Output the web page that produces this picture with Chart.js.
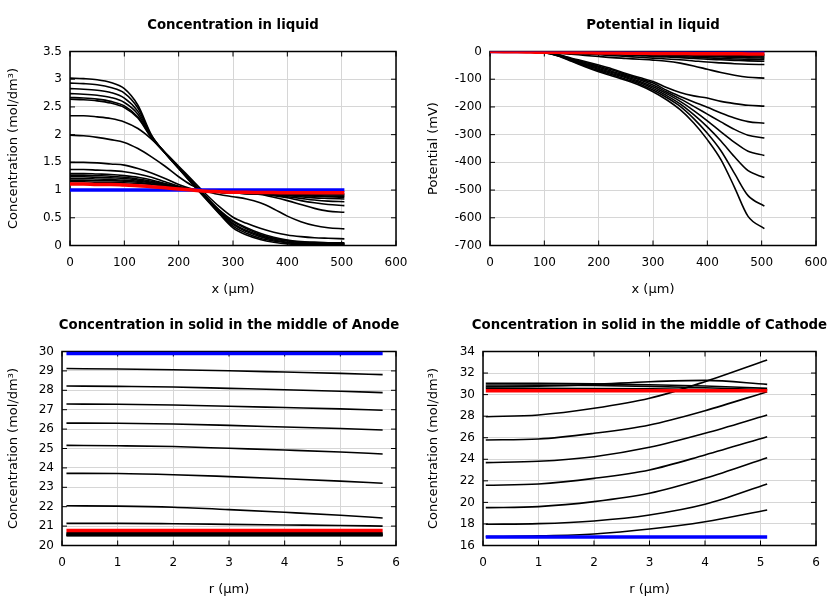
<!DOCTYPE html>
<html><head><meta charset="utf-8">
<script src="https://cdn.jsdelivr.net/npm/chart.js@4.4.1/dist/chart.umd.min.js"></script>
<style>
html,body{margin:0;padding:0;background:#fff;}
#wrap{position:relative;width:840px;height:600px;overflow:hidden;}
canvas{position:absolute;}
</style></head><body>
<div id="wrap">
<canvas id="c1" width="420" height="300" style="left:0;top:0"></canvas>
<canvas id="c2" width="420" height="300" style="left:420px;top:0"></canvas>
<canvas id="c3" width="420" height="300" style="left:0;top:300px"></canvas>
<canvas id="c4" width="420" height="300" style="left:420px;top:300px"></canvas>
</div>
<script>
// ---------- Panel 1: Concentration in liquid (mol/dm3) vs x (um) ----------
const xLiquid = [0,25,50,75,100,125,150,175,200,225,250,275,300,325,350,375,400,425,450,475,505];
const liqInitial = [1,1,1,1,1,1,1,1,1,1,1,1,1,1,1,1,1,1,1,1,1];
const liqFinal = [1.11,1.11,1.10,1.10,1.09,1.08,1.06,1.04,1.02,1.00,0.98,0.97,0.96,0.96,0.955,0.955,0.95,0.95,0.95,0.95,0.95];
const liqSteps = [
  [3.02,3.01,2.99,2.94,2.83,2.53,1.99,1.67,1.39,1.11,0.84,0.57,0.32,0.19,0.11,0.06,0.03,0.02,0.01,0.01,0.01],
  [2.93,2.92,2.90,2.85,2.75,2.48,1.98,1.67,1.39,1.12,0.85,0.58,0.35,0.22,0.13,0.08,0.05,0.03,0.02,0.02,0.02],
  [2.83,2.82,2.80,2.76,2.66,2.42,1.97,1.67,1.40,1.12,0.86,0.60,0.38,0.25,0.16,0.10,0.06,0.04,0.03,0.03,0.02],
  [2.74,2.73,2.71,2.67,2.58,2.37,1.96,1.67,1.40,1.13,0.87,0.61,0.40,0.27,0.18,0.12,0.08,0.05,0.04,0.03,0.03],
  [2.67,2.66,2.64,2.60,2.52,2.32,1.95,1.67,1.41,1.14,0.88,0.63,0.43,0.30,0.20,0.13,0.09,0.06,0.05,0.04,0.04],
  [2.64,2.63,2.61,2.57,2.49,2.30,1.94,1.67,1.41,1.15,0.89,0.64,0.45,0.32,0.22,0.15,0.10,0.07,0.06,0.05,0.05],
  [2.34,2.34,2.32,2.29,2.23,2.11,1.92,1.68,1.43,1.18,0.93,0.70,0.51,0.40,0.31,0.24,0.19,0.16,0.14,0.13,0.12],
  [1.99,1.98,1.95,1.91,1.86,1.75,1.60,1.43,1.24,1.08,0.98,0.92,0.88,0.84,0.77,0.66,0.53,0.43,0.36,0.32,0.30],
  [1.50,1.50,1.49,1.47,1.45,1.39,1.31,1.21,1.10,1.02,0.98,0.96,0.95,0.94,0.92,0.87,0.81,0.74,0.67,0.62,0.60],
  [1.37,1.37,1.36,1.35,1.33,1.29,1.23,1.15,1.07,1.01,0.98,0.96,0.95,0.94,0.93,0.90,0.86,0.81,0.77,0.74,0.72],
  [1.30,1.30,1.29,1.28,1.26,1.23,1.18,1.12,1.06,1.01,0.98,0.96,0.95,0.94,0.93,0.91,0.88,0.85,0.82,0.80,0.79],
  [1.27,1.27,1.26,1.25,1.23,1.20,1.16,1.11,1.05,1.01,0.98,0.96,0.95,0.94,0.93,0.92,0.90,0.88,0.86,0.85,0.84],
  [1.24,1.24,1.23,1.22,1.21,1.18,1.14,1.10,1.05,1.01,0.98,0.96,0.95,0.94,0.93,0.92,0.91,0.90,0.89,0.88,0.87],
  [1.21,1.21,1.20,1.19,1.18,1.16,1.13,1.09,1.04,1.00,0.98,0.96,0.95,0.94,0.93,0.92,0.91,0.90,0.90,0.89,0.89],
  [1.18,1.18,1.17,1.17,1.16,1.14,1.11,1.08,1.04,1.00,0.98,0.96,0.95,0.94,0.93,0.93,0.92,0.92,0.91,0.91,0.91],
  [1.15,1.15,1.14,1.14,1.13,1.12,1.10,1.07,1.03,1.00,0.98,0.96,0.95,0.95,0.94,0.94,0.93,0.93,0.93,0.93,0.93]
];

// ---------- Panel 2: Potential in liquid (mV) vs x (um) ----------
const potInitial = [0,0,0,0,0,0,0,0,0,0,0,0,0,0,0,0,0,0,0,0,0];
const potFinal = [0,-1,-1,-2,-3,-3,-4,-4,-5,-5,-6,-6,-7,-7,-7,-8,-8,-8,-8,-9,-9];
const potSteps = [
  [0,0,-1,-2,-4,-16,-35,-55,-73,-88,-104,-122,-145,-174,-210,-258,-318,-390,-490,-595,-639],
  [0,0,-1,-2,-4,-15,-33,-52,-69,-84,-100,-117,-139,-166,-198,-242,-295,-358,-440,-520,-558],
  [0,0,-1,-2,-4,-14,-31,-49,-65,-80,-95,-112,-133,-159,-189,-228,-272,-323,-380,-430,-455],
  [0,0,-1,-2,-3,-13,-30,-46,-61,-76,-91,-107,-127,-152,-180,-213,-250,-290,-328,-360,-375],
  [0,0,-1,-2,-3,-12,-28,-43,-57,-72,-87,-102,-121,-146,-171,-198,-226,-254,-281,-302,-312],
  [0,0,-1,-2,-3,-12,-26,-40,-53,-67,-83,-98,-114,-140,-162,-182,-201,-222,-240,-253,-259],
  [0,0,-1,-2,-3,-11,-24,-36,-49,-63,-79,-94,-108,-130,-148,-160,-168,-180,-188,-194,-197],
  [0,0,0,-1,-3,-6,-10,-14,-18,-22,-25,-28,-31,-35,-42,-52,-64,-76,-86,-93,-96],
  [0,0,0,-1,-2,-4,-6,-9,-12,-15,-18,-21,-24,-27,-30,-34,-38,-41,-44,-46,-47],
  [0,0,0,-1,-2,-3,-5,-7,-9,-11,-13,-15,-18,-20,-22,-25,-28,-30,-32,-34,-35],
  [0,0,0,-1,-1,-2,-4,-5,-7,-9,-11,-13,-15,-17,-19,-21,-23,-25,-27,-28,-29],
  [0,0,0,-1,-1,-2,-3,-4,-6,-7,-9,-10,-12,-14,-15,-17,-19,-20,-22,-23,-24],
  [0,0,0,0,-1,-2,-3,-4,-5,-6,-7,-9,-10,-11,-13,-14,-15,-17,-18,-19,-20],
  [0,0,0,0,-1,-1,-2,-3,-4,-5,-6,-7,-8,-9,-10,-11,-12,-13,-14,-15,-16],
  [0,0,0,0,-1,-1,-2,-2,-3,-4,-5,-5,-6,-7,-8,-9,-10,-11,-11,-12,-13],
  [0,0,0,0,0,-1,-1,-2,-2,-3,-3,-4,-5,-5,-6,-7,-7,-8,-9,-9,-10]
];

// ---------- Panel 3: Concentration in solid, middle of Anode vs r (um) ----------
const rAnode = [0.08,1,2,3,4,5,5.76];
const anodeInitial = [29.9,29.9,29.9,29.9,29.9,29.9,29.9];
const anodeFinal = [20.77,20.77,20.77,20.77,20.77,20.77,20.77];
const anodeSteps = [
  [29.12,29.10,29.06,29.01,28.94,28.87,28.81],
  [28.22,28.20,28.17,28.10,28.03,27.95,27.88],
  [27.29,27.28,27.24,27.18,27.11,27.04,26.97],
  [26.31,26.30,26.26,26.19,26.11,26.03,25.95],
  [25.16,25.14,25.10,25.01,24.92,24.82,24.72],
  [23.72,23.71,23.65,23.55,23.44,23.32,23.21],
  [22.05,22.03,21.97,21.85,21.71,21.56,21.42],
  [21.14,21.14,21.12,21.09,21.06,21.03,21.00],
  [20.66,20.66,20.66,20.66,20.66,20.66,20.66],
  [20.62,20.62,20.62,20.62,20.62,20.62,20.62],
  [20.58,20.58,20.58,20.58,20.58,20.58,20.58],
  [20.55,20.55,20.55,20.55,20.55,20.55,20.55],
  [20.52,20.52,20.52,20.52,20.52,20.52,20.52],
  [20.50,20.50,20.50,20.50,20.50,20.50,20.50]
];

// ---------- Panel 4: Concentration in solid, middle of Cathode vs r (um) ----------
const rCathode = [0.05,1,2,3,4,5.12];
const cathodeInitial = [16.8,16.8,16.8,16.8,16.8,16.8];
const cathodeFinal = [30.35,30.35,30.35,30.35,30.35,30.35];
const cathodeSteps = [
  [16.82,16.89,17.07,17.53,18.21,19.30],
  [17.97,18.03,18.28,18.83,19.82,21.71],
  [19.51,19.61,20.07,20.84,22.23,24.15],
  [21.59,21.71,22.23,23.01,24.40,26.10],
  [23.69,23.81,24.24,25.11,26.41,28.11],
  [25.79,25.88,26.41,27.18,28.51,30.27],
  [27.95,28.11,28.73,29.66,31.20,33.21],
  [30.74,30.78,30.95,31.20,31.32,30.95],
  [31.05,31.04,31.00,30.92,30.80,30.58],
  [30.89,30.88,30.84,30.76,30.64,30.45],
  [30.60,30.59,30.57,30.53,30.48,30.40]
];

// ---------- helpers ----------
Chart.defaults.font.family = '"DejaVu Sans", sans-serif';
Chart.defaults.font.size = 12;
Chart.defaults.color = '#000';

function pts(xs, ys){ return xs.map((x,i)=>({x:x, y:ys[i]})); }

function buildDatasets(xs, initial, final, steps){
  const ds = [];
  ds.push({data: pts(xs, final), borderColor:'#ff0000', borderWidth:3.5});
  ds.push({data: pts(xs, initial), borderColor:'#0000ff', borderWidth:3.5});
  steps.forEach(s => ds.push({data: pts(xs, s), borderColor:'#000000', borderWidth:1.6}));
  return ds;
}

const framePlugin = {
  id: 'frame',
  beforeDatasetsDraw(chart) {
    const {ctx, chartArea: a, scales} = chart;
    const x = scales.x, y = scales.y;
    ctx.save();
    ctx.strokeStyle = '#000';
    ctx.lineWidth = 1;
    const L = 5;
    ctx.beginPath();
    x.ticks.forEach(t => {
      const p = x.getPixelForValue(t.value);
      ctx.moveTo(p, a.bottom); ctx.lineTo(p, a.bottom - L);
      ctx.moveTo(p, a.top); ctx.lineTo(p, a.top + L);
    });
    y.ticks.forEach(t => {
      const p = y.getPixelForValue(t.value);
      ctx.moveTo(a.left, p); ctx.lineTo(a.left + L, p);
      ctx.moveTo(a.right, p); ctx.lineTo(a.right - L, p);
    });
    ctx.stroke();
    ctx.lineWidth = 1.5;
    ctx.strokeRect(a.left, a.top, a.right - a.left, a.bottom - a.top);
    ctx.restore();
  },
  afterDraw(chart, args, opts) {
    const {ctx, chartArea: a} = chart;
    ctx.save();
    ctx.fillStyle = '#000';
    ctx.font = 'bold 13.3px "DejaVu Sans", sans-serif';
    ctx.textAlign = 'center';
    ctx.textBaseline = 'middle';
    ctx.fillText(opts.title, (a.left + a.right) / 2, 26);
    ctx.restore();
  }
};

function makeChart(id, c){
  return new Chart(document.getElementById(id), {
    type: 'line',
    data: { datasets: buildDatasets(c.xs, c.initial, c.final, c.steps) },
    plugins: [framePlugin],
    options: {
      responsive: false,
      animation: false,
      events: [],
      layout: { padding: {top: 51.5, right: 24, bottom: 0, left: 0} },
      elements: {
        point: { radius: 0 },
        line: { cubicInterpolationMode: 'monotone', fill: false, borderJoinStyle: 'round', borderCapStyle: 'butt' }
      },
      plugins: {
        legend: { display: false },
        tooltip: { enabled: false },
        frame: { title: c.title }
      },
      scales: {
        x: {
          type: 'linear', min: c.xMin, max: c.xMax,
          ticks: { stepSize: c.xStep, padding: 10, maxRotation: 0, color: '#000', font:{size:12}, callback: v => String(v) },
          grid: { color: '#d6d6d6', lineWidth: 1, drawTicks: false },
          border: { display: false },
          title: { display: true, text: c.xTitle, color: '#000', font:{size:13}, padding: {top: 0, bottom: 3} },
          afterFit(s){ s.height = 54.5; }
        },
        y: {
          type: 'linear', min: c.yMin, max: c.yMax,
          ticks: { stepSize: c.yStep, padding: 8, color: '#000', font:{size:12}, callback: v => String(v) },
          grid: { color: '#d6d6d6', lineWidth: 1, drawTicks: false },
          border: { display: false },
          title: { display: true, text: c.yTitle, color: '#000', font:{size:13}, padding: {top: 6, bottom: 0} },
          afterFit(s){ s.width = c.yWidth; }
        }
      }
    }
  });
}

makeChart('c1', {title:'Concentration in liquid', xs:xLiquid, initial:liqInitial, final:liqFinal, steps:liqSteps,
  xMin:0, xMax:600, xStep:100, yMin:0, yMax:3.5, yStep:0.5, yWidth:70,
  xTitle:'x (µm)', yTitle:'Concentration (mol/dm³)'});
makeChart('c2', {title:'Potential in liquid', xs:xLiquid, initial:potInitial, final:potFinal, steps:potSteps,
  xMin:0, xMax:600, xStep:100, yMin:-700, yMax:0, yStep:100, yWidth:70,
  xTitle:'x (µm)', yTitle:'Potential (mV)'});
makeChart('c3', {title:'Concentration in solid in the middle of Anode', xs:rAnode, initial:anodeInitial, final:anodeFinal, steps:anodeSteps,
  xMin:0, xMax:6, xStep:1, yMin:20, yMax:30, yStep:1, yWidth:62,
  xTitle:'r (µm)', yTitle:'Concentration (mol/dm³)'});
makeChart('c4', {title:'Concentration in solid in the middle of Cathode', xs:rCathode, initial:cathodeInitial, final:cathodeFinal, steps:cathodeSteps,
  xMin:0, xMax:6, xStep:1, yMin:16, yMax:34, yStep:2, yWidth:63,
  xTitle:'r (µm)', yTitle:'Concentration (mol/dm³)'});
</script>
</body></html>
